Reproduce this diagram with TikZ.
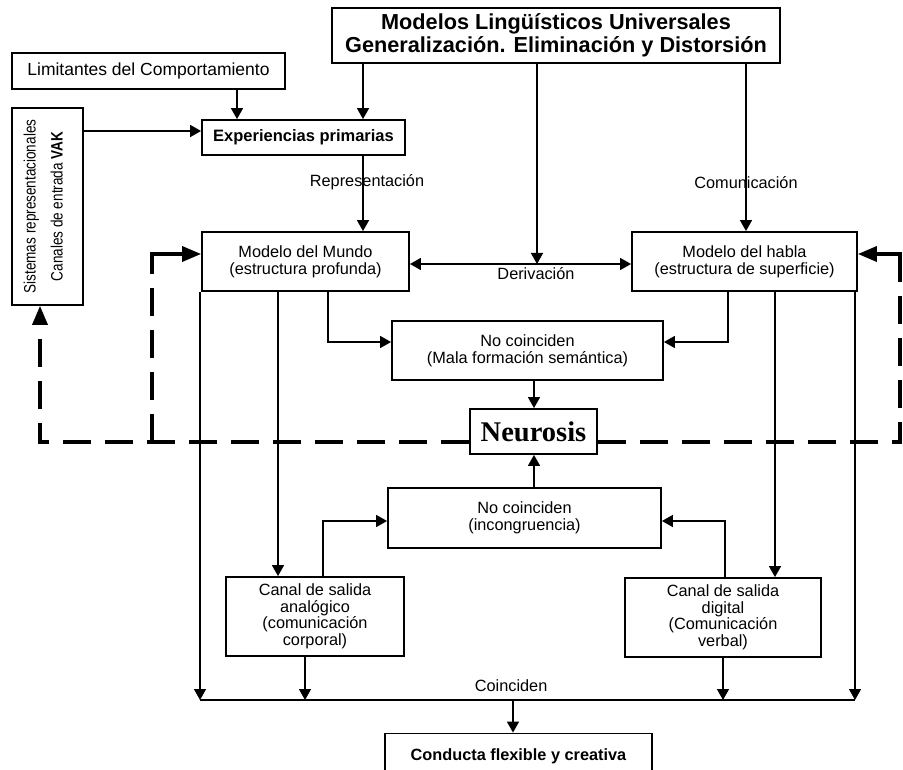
\documentclass[tikz,border=0pt]{standalone}
\usepackage{fontspec}
\setmainfont{Liberation Sans}
\newfontfamily\serifb{Liberation Serif}
\newfontfamily\narrowf[FakeStretch=0.82]{Liberation Sans}
\usetikzlibrary{arrows.meta}
\begin{document}
\begin{tikzpicture}[x=1pt,y=-1pt,
  box/.style={draw, line width=1.8pt, inner sep=2pt, align=center, font=\fontsize{16.3}{17}\selectfont},
  arr/.style={line width=1.4pt, -{Triangle[length=11pt,width=12pt]}},
  darr/.style={line width=1.4pt, {Triangle[length=11pt,width=12pt]}-{Triangle[length=11pt,width=12pt]}},
  ln/.style={line width=1.4pt},
  dsh/.style={line width=3.5pt, dash pattern=on 28pt off 14pt},
  big/.style={line width=3.5pt, -{Triangle[length=19pt,width=15pt]}},
  lbl/.style={font=\fontsize{16.3}{17}\selectfont, inner sep=0pt}]
\useasboundingbox (0,0) rectangle (903,770);
\clip (0,0) rectangle (903,770);

% boxes
\node[box, minimum width=448pt, minimum height=55pt, font=\bfseries\fontsize{21.7}{23}\selectfont] (top) at (556,35.5) {Modelos Lingüísticos Universales\\Generalización. Eliminación y Distorsión};
\node[box, minimum width=273pt, minimum height=36pt, font=\fontsize{17.5}{19}\selectfont] (lim) at (148.5,71) {Limitantes del Comportamiento};
\node[box, minimum width=203pt, minimum height=35pt, font=\bfseries\fontsize{16.5}{17}\selectfont] (exp) at (303.5,137.5) {Experiencias primarias};
\node[box, minimum width=71pt, minimum height=197pt, inner sep=0pt] (sis) at (47.5,206.5) {\hspace*{-7pt}\rotatebox{90}{\narrowf\fontsize{16.5}{25}\selectfont\begin{tabular}{@{}c@{}}Sistemas representacionales\\[2pt]Canales de entrada \textbf{VAK}\end{tabular}}};
\node[box, minimum width=207pt, minimum height=59pt] (mundo) at (305.5,261.5) {Modelo del Mundo\\(estructura profunda)};
\node[box, minimum width=225pt, minimum height=59pt] (habla) at (744.5,261.5) {Modelo del habla\\(estructura de superficie)};
\node[box, minimum width=271pt, minimum height=59pt] (nc1) at (527.5,350.5) {No coinciden\\(Mala formación semántica)};
\node[box, minimum width=127pt, minimum height=45pt, fill=white, font=\serifb\bfseries\fontsize{28.5}{30}\selectfont] (neur) at (533.5,431.5) {Neurosis};
\node[box, minimum width=273pt, minimum height=60pt] (nc2) at (524.5,518) {No coinciden\\(incongruencia)};
\node[box, minimum width=178pt, minimum height=79pt, font=\fontsize{16.3}{16.5}\selectfont] (ana) at (315,616.5) {Canal de salida\\analógico\\(comunicación\\corporal)};
\node[box, minimum width=196pt, minimum height=79pt, font=\fontsize{16.3}{16.5}\selectfont] (dig) at (723,617.5) {Canal de salida\\digital\\(Comunicación\\verbal)};
\node[box, minimum width=267pt, minimum height=45pt, font=\bfseries\fontsize{16.3}{17}\selectfont] (cond) at (518.5,756) {Conducta flexible y creativa};

% helper coordinates
\coordinate (c40) at (40,0);
\coordinate (c152) at (152,0);
\coordinate (c200) at (200,0);
\coordinate (c237) at (237,0);
\coordinate (c278) at (278,0);
\coordinate (c305) at (305,0);
\coordinate (c323) at (323,0);
\coordinate (c328) at (328,0);
\coordinate (c363) at (363,0);
\coordinate (c513) at (513,0);
\coordinate (c534) at (534,0);
\coordinate (c537) at (537,0);
\coordinate (c723) at (723,0);
\coordinate (c725) at (725,0);
\coordinate (c728) at (728,0);
\coordinate (c746) at (746,0);
\coordinate (c775) at (775,0);
\coordinate (c855) at (855,0);
\coordinate (c900) at (900,0);
\coordinate (r131) at (0,131);
\coordinate (r254) at (0,254);
\coordinate (r264) at (0,264);
\coordinate (r270) at (0,270);
\coordinate (r342) at (0,342);
\coordinate (r442) at (0,442);
\coordinate (r521) at (0,521);
\coordinate (r700) at (0,700);

% connectors
\draw[arr] (lim.south -| c237) -- (exp.north -| c237);
\draw[arr] (top.south -| c363) -- (exp.north -| c363);
\draw[arr] (sis.east |- r131) -- (exp.west |- r131);
\draw[arr] (exp.south -| c363) -- node[lbl, pos=0.35, xshift=4pt]{Representación} (mundo.north -| c363);
\draw[arr] (top.south -| c746) -- node[lbl, pos=0.71]{Comunicación} (habla.north -| c746);
\draw[arr] (top.south -| c537) -- (c537 |- r264);
\draw[darr] (mundo.east |- r264) -- node[lbl, pos=0.57, below=3pt]{Derivación} (habla.west |- r264);
\draw[arr] (mundo.south -| c328) |- (nc1.west |- r342);
\draw[arr] (habla.south -| c728) |- (nc1.east |- r342);
\draw[arr] (nc1.south -| c534) -- (neur.north -| c534);
\draw[arr] (nc2.north -| c534) -- (neur.south -| c534);
\draw[arr] (ana.north -| c323) |- (nc2.west |- r521);
\draw[arr] (dig.north -| c725) |- (nc2.east |- r521);
\draw[arr] (mundo.south -| c200) -- (c200 |- r700);
\draw[arr] (mundo.south -| c278) -- (ana.north -| c278);
\draw[arr] (habla.south -| c775) -- (dig.north -| c775);
\draw[arr] (habla.south -| c855) -- (c855 |- r700);
\draw[arr] (ana.south -| c305) -- (c305 |- r700);
\draw[arr] (dig.south -| c723) -- (c723 |- r700);
\draw[ln] (c200 |- r700) -- node[lbl, pos=0.475, above=8pt]{Coinciden} (c855 |- r700);
\draw[arr] (c513 |- r700) -- (cond.north -| c513);

% dashed feedback
\draw[dsh, -{Triangle[length=19pt,width=15pt]}] (neur.west |- r442) -- (c40 |- r442) -- (sis.south -| c40);
\draw[dsh] (c152 |- r442) -- (c152 |- r270);
\draw[big] (c152 |- r270) -- (c152 |- r254) -- (mundo.west |- r254);
\draw[dsh] (neur.east |- r442) -- (c900 |- r442) -- (c900 |- r270);
\draw[big] (c900 |- r270) -- (c900 |- r254) -- (habla.east |- r254);
\end{tikzpicture}
\end{document}
